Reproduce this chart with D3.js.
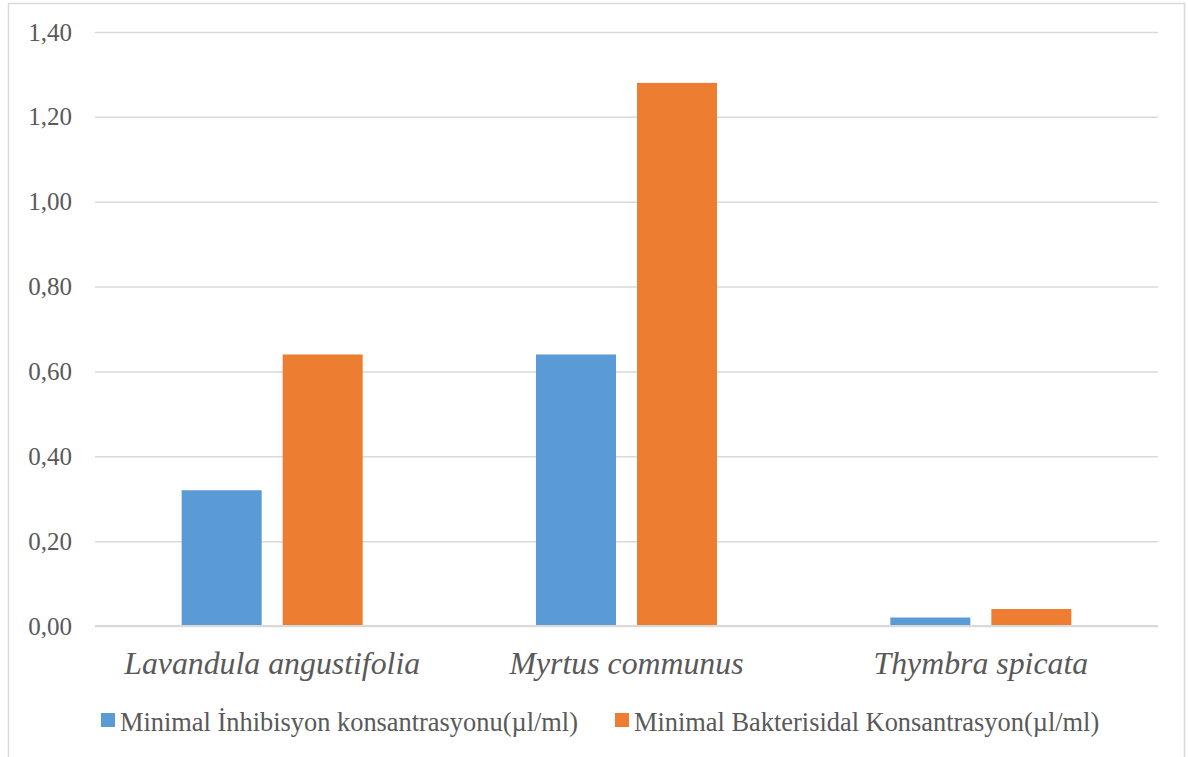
<!DOCTYPE html>
<html>
<head>
<meta charset="utf-8">
<script src="https://cdn.jsdelivr.net/npm/d3@7"></script>
<style>
  html, body { margin: 0; padding: 0; background: #fff; }
  svg { display: block; }
  svg text { font-family: "Liberation Serif"; fill: #595959; }
</style>
</head>
<body>
<svg id="chart" width="1188" height="757"></svg>
<script>
// Species tested
const categories = ["Lavandula angustifolia", "Myrtus communus", "Thymbra spicata"];
// Series names
const seriesNames = [
  "Minimal İnhibisyon konsantrasyonu(µl/ml)",
  "Minimal Bakterisidal Konsantrasyon(µl/ml)"
];
// Values (µl/ml) per species, one array per series
const mic = [0.32, 0.64, 0.02];
const mbc = [0.64, 1.28, 0.04];
// Y axis ticks
const yTicks = [0, 0.2, 0.4, 0.6, 0.8, 1.0, 1.2, 1.4];

(function () {
  const colors = ["#5b9bd5", "#ed7d31"];
  const gridColor = "#d9d9d9";
  const serif = "Liberation Serif";

  const svg = d3.select("#chart");

  // outer frame
  svg.append("rect")
    .attr("x", 8.5).attr("y", 3.5)
    .attr("width", 1176).attr("height", 770)
    .attr("fill", "none").attr("stroke", gridColor).attr("stroke-width", 1.5);

  const plotLeft = 95, plotRight = 1158, plotTop = 32, plotBottom = 626;

  const x0 = d3.scaleBand().domain(categories).range([plotLeft, plotRight]).paddingInner(0).paddingOuter(0);
  const x1 = d3.scaleBand().domain([0, 1]).range([0, x0.bandwidth()])
    .paddingInner(0.208).paddingOuter(0.858);
  const y = d3.scaleLinear().domain([0, 1.4]).range([plotBottom, plotTop]);

  const fmt = v => d3.format(".2f")(v).replace(".", ",");

  // gridlines + tick labels
  const yAxis = d3.axisLeft(y).tickValues(yTicks).tickFormat(fmt)
    .tickSize(-(plotRight - plotLeft)).tickPadding(23);
  const gy = svg.append("g").attr("transform", `translate(${plotLeft},0)`).call(yAxis)
    .attr("font-family", serif).attr("font-size", 25);
  gy.select(".domain").remove();
  gy.selectAll(".tick line").attr("stroke", gridColor).attr("stroke-width", 1.5);
  gy.selectAll(".tick text")
    .attr("fill", "#595959")
    .style("font-size", "25px");

  // bars
  const data = categories.map((c, i) => ({ cat: c, vals: [mic[i], mbc[i]] }));
  const groups = svg.append("g").selectAll("g").data(data).join("g")
    .attr("transform", d => `translate(${x0(d.cat)},0)`);
  groups.selectAll("rect").data(d => d.vals.map((v, k) => ({ v, k }))).join("rect")
    .attr("x", d => x1(d.k))
    .attr("width", x1.bandwidth())
    .attr("y", d => y(d.v))
    .attr("height", d => y(0) - y(d.v))
    .attr("fill", d => colors[d.k]);

  // baseline
  svg.append("line")
    .attr("x1", plotLeft).attr("x2", plotRight).attr("y1", y(0)).attr("y2", y(0))
    .attr("stroke", gridColor).attr("stroke-width", 2);

  // category labels
  const xAxis = d3.axisBottom(x0).tickSize(0).tickPadding(0);
  const gx = svg.append("g").attr("transform", `translate(0,${plotBottom})`).call(xAxis)
    .attr("font-family", serif).attr("font-size", 32);
  gx.select(".domain").remove();
  gx.selectAll(".tick text")
    .attr("y", 48).attr("dy", 0)
    .attr("fill", "#595959")
    .style("font-style", "italic")
    .style("font-size", "31.8px");

  // legend
  const legendItems = [
    { name: seriesNames[0], color: colors[0], sx: 101, tx: 120 },
    { name: seriesNames[1], color: colors[1], sx: 615, tx: 634 }
  ];
  const lg = svg.append("g");
  legendItems.forEach(it => {
    lg.append("rect").attr("x", it.sx).attr("y", 713).attr("width", 14).attr("height", 14)
      .attr("fill", it.color);
    lg.append("text").attr("x", it.tx).attr("y", 730.5)
      .attr("fill", "#595959")
      .style("font-size", "26.4px")
      .text(it.name);
  });
})();
</script>
</body>
</html>
